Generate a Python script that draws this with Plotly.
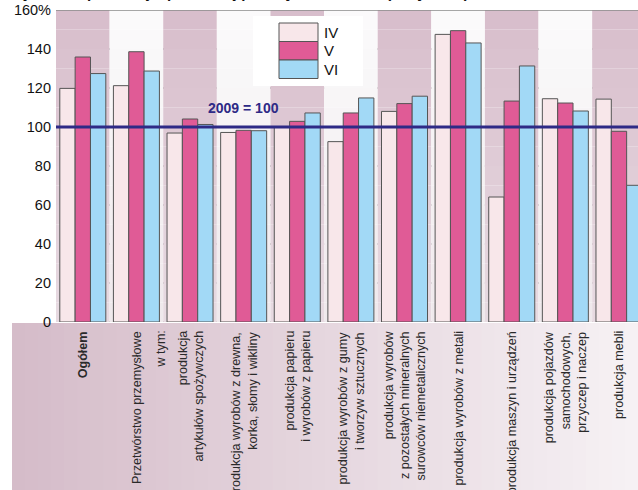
import plotly.graph_objects as go

# ---------------- data ----------------
categories = [
    "Ogółem", "Przetwórstwo przemysłowe", "artykuły spożywcze", "drewno",
    "papier", "guma", "mineralne", "metale", "maszyny", "pojazdy", "meble",
]
tick_labels = [
    "<b>Ogółem</b>",
    "Przetwórstwo przemysłowe",
    "produkcja<br>artykułów spożywczych",
    "produkcja wyrobów z drewna,<br>korka, słomy i wikliny",
    "produkcja papieru<br>i wyrobów z papieru",
    "produkcja wyrobów z gumy<br>i tworzyw sztucznych",
    "produkcja wyrobów<br>z pozostałych mineralnych<br>surowców niemetalicznych",
    "produkcja wyrobów z metali",
    "produkcja maszyn i urządzeń",
    "produkcja pojazdów<br>samochodowych,<br>przyczep i naczep",
    "produkcja mebli",
]
series_names = ["IV", "V", "VI"]
values_IV = [119.8, 121.2, 96.9, 97.2, 99.8, 92.5, 108.0, 147.5, 64.1, 114.5, 114.3]
values_V = [135.9, 138.6, 104.1, 98.3, 102.9, 107.2, 112.0, 149.4, 113.3, 112.3, 97.8]
values_VI = [127.4, 128.7, 101.3, 98.1, 107.2, 114.9, 115.8, 143.1, 131.3, 108.2, 70.1]
y_ticks = [0, 20, 40, 60, 80, 100, 120, 140, 160]
y_tick_text = ["0", "20", "40", "60", "80", "100", "120", "140", "160%"]
base_value = 100
base_label = "2009 = 100"
title_text = "Dynamika produkcji sprzedanej przemysłu w 2010 r. (ceny stałe)"

# ---------------- style ----------------
W, H = 638, 490
ML, MR, MT, MB = 56, 0, 10, 168
PW = W - ML - MR
PH = H - MT - MB
colors = ["#f8e7ea", "#e05b96", "#a2d9f6"]
FONT = "Liberation Sans, Arial, sans-serif"


def px_x(px):
    return (px - ML) / PW


def px_y(py):
    return (H - MB - py) / PH


def hex2rgb(h):
    h = h.lstrip("#")
    return tuple(int(h[i:i + 2], 16) for i in (0, 2, 4))


def mix(c1, c2, t):
    a, b = hex2rgb(c1), hex2rgb(c2)
    return "rgb(%d,%d,%d)" % tuple(round(a[i] + (b[i] - a[i]) * t) for i in range(3))


fig = go.Figure()
for name, vals, col in zip(series_names, [values_IV, values_V, values_VI], colors):
    fig.add_trace(go.Bar(
        x=categories, y=vals, name=name, showlegend=False,
        marker=dict(color=col, line=dict(color="#555555", width=1)),
    ))

shapes = []
# background bands with vertical gradient
NSEG = 16
for i in range(len(categories)):
    if i % 2 == 0:
        top, bot = "#d7bdcb", "#e8dbe2"
    else:
        top, bot = "#fbfbfb", "#efe8ec"
    for s in range(NSEG):
        y0 = 160 * s / NSEG
        y1 = 160 * (s + 1) / NSEG
        t = 1 - (s + 0.5) / NSEG
        shapes.append(dict(type="rect", xref="x", yref="y", x0=i - 0.5, x1=i + 0.5,
                           y0=y0, y1=y1, fillcolor=mix(top, bot, t),
                           line=dict(width=0), layer="below"))
# grid lines
for v in y_ticks[:-1]:
    shapes.append(dict(type="line", xref="paper", yref="y", x0=0, x1=1, y0=v, y1=v,
                       line=dict(color="#333333", width=1), layer="between"))
shapes.append(dict(type="line", xref="paper", yref="y", x0=0, x1=1, y0=160, y1=160,
                   line=dict(color="#8a8a8a", width=1.5), layer="above"))
# base line 2009 = 100
shapes.append(dict(type="line", xref="paper", yref="y", x0=0, x1=1,
                   y0=base_value, y1=base_value,
                   line=dict(color="#2e2a86", width=3), layer="above"))
# label area gradient
NST = 48
x_start, x_end = 12, W
for s in range(NST):
    a = x_start + (x_end - x_start) * s / NST
    b = x_start + (x_end - x_start) * (s + 1) / NST
    shapes.append(dict(type="rect", xref="paper", yref="paper",
                       x0=px_x(a), x1=min(px_x(b) + 0.002, 1.0), y0=px_y(H), y1=px_y(323),
                       fillcolor=mix("#d5bcc9", "#f6f1f4", s / (NST - 1)),
                       line=dict(width=0), layer="below"))
# custom legend
shapes.append(dict(type="rect", xref="paper", yref="paper",
                   x0=px_x(253), x1=px_x(363), y0=px_y(86), y1=px_y(16),
                   fillcolor="white", line=dict(width=0), layer="above"))
annotations = []
row_h = 18.5
for k, (name, col) in enumerate(zip(series_names, colors)):
    t0 = 23 + k * row_h
    shapes.append(dict(type="rect", xref="paper", yref="paper",
                       x0=px_x(279), x1=px_x(318), y0=px_y(t0 + row_h), y1=px_y(t0),
                       fillcolor=col, line=dict(color="#555555", width=1), layer="above"))
    annotations.append(dict(xref="paper", yref="paper", x=px_x(322), y=px_y(t0 + row_h / 2),
                            xanchor="left", yanchor="middle", text=name, showarrow=False,
                            font=dict(family=FONT, size=15, color="#111111")))

# category labels
for i, lab in enumerate(tick_labels):
    annotations.append(dict(xref="x", yref="paper", x=categories[i], y=px_y(329),
                            xanchor="center", yanchor="top", text=lab, textangle=-90,
                            align="right", showarrow=False,
                            font=dict(family=FONT, size=12.6, color="#2a2a2a")))
annotations.append(dict(xref="x", yref="paper", x=1.44, y=px_y(329),
                        xanchor="center", yanchor="top", text="w tym:", textangle=-90,
                        align="right", showarrow=False,
                        font=dict(family=FONT, size=12.6, color="#2a2a2a")))
# base label
annotations.append(dict(xref="paper", yref="y", x=px_x(243), y=base_value, yshift=19,
                        xanchor="center", yanchor="middle", text="<b>" + base_label + "</b>",
                        showarrow=False, font=dict(family=FONT, size=14, color="#2e2a86")))
# title (partially cut at top as in the reference)
annotations.append(dict(xref="paper", yref="paper", x=px_x(10), y=px_y(3),
                        xanchor="left", yanchor="bottom", text="<b>" + title_text + "</b>",
                        showarrow=False, font=dict(family=FONT, size=15, color="#111111")))

fig.update_layout(
    width=W, height=H,
    margin=dict(l=ML, r=MR, t=MT, b=MB, pad=0),
    paper_bgcolor="white", plot_bgcolor="white",
    barmode="group", bargap=0.142, bargroupgap=0,
    shapes=shapes, annotations=annotations,
    xaxis=dict(range=[-0.5, 10.355], showticklabels=False, showgrid=False,
               zeroline=False, showline=False, ticks=""),
    yaxis=dict(range=[0, 160], tickvals=y_ticks, ticktext=y_tick_text,
               showgrid=False, zeroline=False, showline=False, ticks="",
               ticklabelstandoff=4,
               tickfont=dict(family=FONT, size=14.5, color="#111111")),
)

fig.write_html(
    "out.html",
    config={"displayModeBar": False},
    post_script=(
        "var st=document.createElement('style');"
        "st.textContent='html,body{margin:0;padding:0;overflow:hidden;scrollbar-width:none;}"
        "::-webkit-scrollbar{display:none;width:0;height:0;}';"
        "document.head.appendChild(st);"
    ),
)
